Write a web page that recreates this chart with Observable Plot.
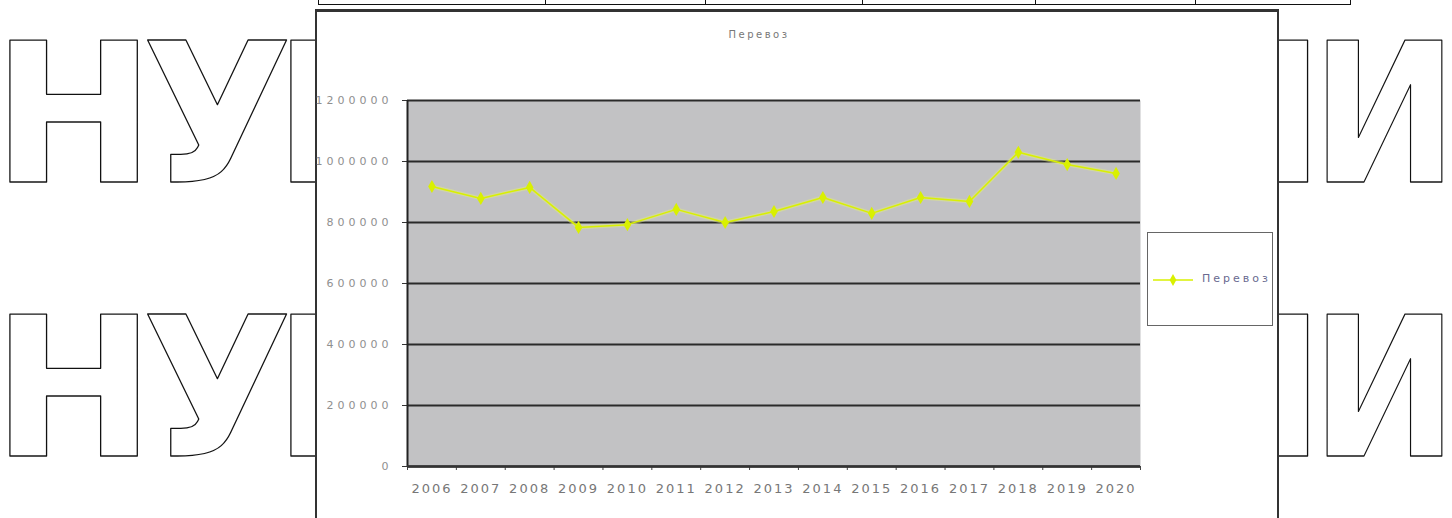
<!DOCTYPE html>
<html><head><meta charset="utf-8">
<script src="https://cdn.jsdelivr.net/npm/d3@7"></script>
<script src="https://cdn.jsdelivr.net/npm/@observablehq/plot@0.6"></script>
<style>
*{box-sizing:border-box}
body{margin:0;width:1452px;height:518px;overflow:hidden;background:#fff;position:relative;font-family:"DejaVu Sans",sans-serif}
.wm{position:absolute;top:0;height:518px;overflow:hidden}
.wm svg{position:absolute;top:0;overflow:hidden}
#wmL{left:0;width:317px}
#wmR{left:1278px;width:174px}
#wmR svg{left:-1278px}
#table{position:absolute;left:318px;top:-20px;width:1033px;height:25px;border:1.5px solid #111;display:flex}
#table div{border-right:1.5px solid #111;height:100%}
#frame{position:absolute;left:315px;top:9px;width:964px;height:540px;border:2px solid #333;border-top-width:3px;background:#fff}
#title{position:absolute;left:0;width:884px;top:17px;text-align:center;font-size:10px;letter-spacing:2.5px;color:#777}
#chart{position:absolute;left:320px;top:60px}
#legend{position:absolute;left:1147px;top:232px;width:126px;height:94px;border:1.5px solid #666;background:#fff}
#legend span{position:absolute;left:54px;top:39px;font-size:11px;letter-spacing:3px;color:#6a6a90}
#legend svg{position:absolute;left:0;top:0}
#chart [aria-label="y-axis tick label"]{letter-spacing:4px}
#chart [aria-label="x-axis tick label"]{letter-spacing:2px}
</style></head>
<body>
<div class="wm" id="wmL">
<svg width="317" height="518" viewBox="0 0 317 518">
<g font-family="DejaVu Sans" font-weight="bold" font-size="195" fill="#fff" stroke="#111" stroke-width="1.3" stroke-linejoin="round">
<text y="182"><tspan x="-8">Н</tspan><tspan x="142">У</tspan><tspan x="273">I</tspan></text>
<text y="456"><tspan x="-8">Н</tspan><tspan x="142">У</tspan><tspan x="273">I</tspan></text>
</g>
</svg>
</div>
<div class="wm" id="wmR">
<svg width="1452" height="518">
<g font-family="DejaVu Sans" font-weight="bold" font-size="195" fill="#fff" stroke="#111" stroke-width="1.3" stroke-linejoin="round">
<text x="1253" y="182">I</text>
<text x="1253" y="456">I</text>
<text x="1311" y="182" textLength="147" lengthAdjust="spacingAndGlyphs">И</text>
<text x="1311" y="456" textLength="147" lengthAdjust="spacingAndGlyphs">И</text>
</g>
</svg>
</div>
<div id="table"><div style="width:227px"></div><div style="width:160px"></div><div style="width:157px"></div><div style="width:173px"></div><div style="width:160px"></div><div style="width:150px;border-right:none"></div></div>
<div id="frame"><div id="title"></div></div>
<div id="chart"></div>
<div id="legend"><svg width="126" height="94"></svg><span></span></div>
<script>
const seriesName = "Перевоз";
const years = [2006, 2007, 2008, 2009, 2010, 2011, 2012, 2013, 2014, 2015, 2016, 2017, 2018, 2019, 2020];
const values = [918000, 879000, 915000, 784000, 793000, 843000, 800000, 836000, 882000, 830000, 882000, 869000, 1030000, 990000, 961000];
const yTicks = [0, 200000, 400000, 600000, 800000, 1000000, 1200000];
const lineColor = "#d9f000";

const data = years.map((year, i) => ({year, value: values[i]}));
const x0 = years[0] - 0.5, x1 = years[years.length - 1] + 0.5;
const bounds = years.map(y => y - 0.5).concat([x1]);

document.getElementById("title").textContent = seriesName;
document.querySelector("#legend span").textContent = seriesName;

const chart = Plot.plot({
  width: 830, height: 450,
  marginLeft: 87, marginRight: 10, marginTop: 40, marginBottom: 44,
  style: {background: "transparent", fontFamily: "DejaVu Sans", overflow: "visible"},
  x: {type: "linear", domain: [x0, x1]},
  y: {domain: [0, 1200000]},
  marks: [
    Plot.frame({fill: "#c2c2c4", stroke: null}),
    Plot.gridY(yTicks, {stroke: "#2a2a2a", strokeOpacity: 1, strokeWidth: 1.8}),
    Plot.axisY(yTicks, {tickSize: 5, tickPadding: 10, tickFormat: d => String(d), fontSize: 11, fill: "#8f8f8f", stroke: "#333", label: null}),
    Plot.axisX(years, {tickSize: 0, tickPadding: 17, tickFormat: d => String(d), fontSize: 13, fill: "#777", label: null}),
    Plot.axisX(bounds, {tickSize: 4, tickFormat: () => "", stroke: "#444", label: null}),
    Plot.ruleX([x0], {stroke: "#222", strokeWidth: 2}),
    Plot.ruleY([0], {stroke: "#333", strokeWidth: 2.5}),
    Plot.line(data, {x: "year", y: "value", stroke: "#e4f07a", strokeWidth: 4, strokeOpacity: 0.45}),
    Plot.line(data, {x: "year", y: "value", stroke: lineColor, strokeWidth: 1.5}),
    Plot.dot(data, {x: "year", y: "value", symbol: "diamond", r: 4, fill: lineColor, stroke: null})
  ]
});
document.getElementById("chart").appendChild(chart);

const lg = d3.select("#legend svg");
lg.append("line").attr("x1", 5).attr("x2", 45).attr("y1", 47).attr("y2", 47).attr("stroke", lineColor).attr("stroke-width", 1.5);
lg.append("path").attr("d", d3.symbol(d3.symbolDiamond, 40)()).attr("transform", "translate(25,47)").attr("fill", lineColor);
</script>
</body></html>
